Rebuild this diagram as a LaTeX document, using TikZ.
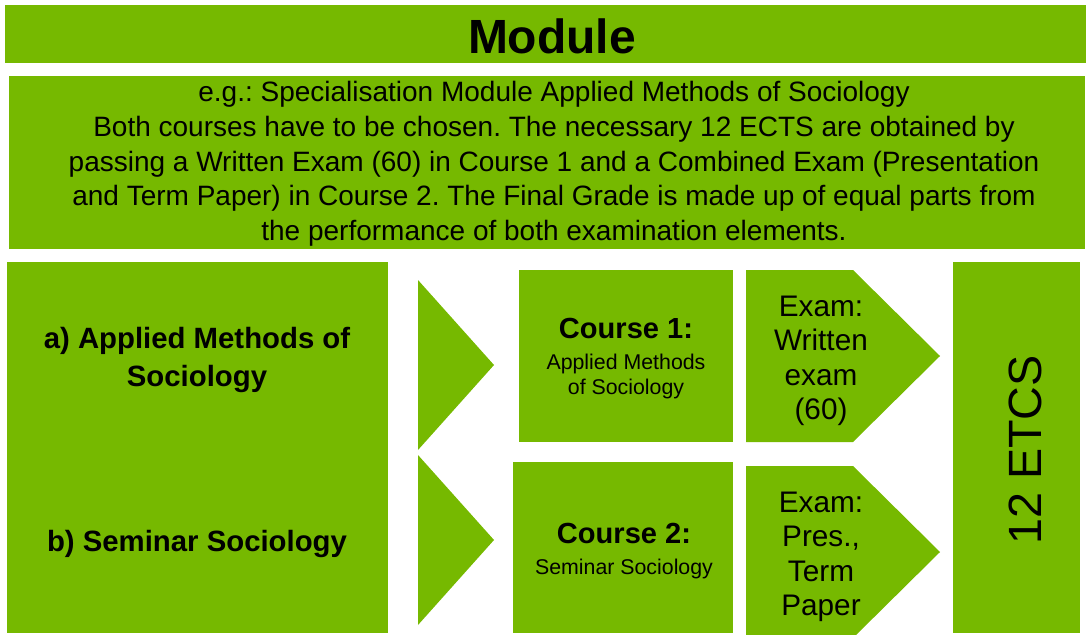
\documentclass[tikz,border=0pt]{standalone}
\usepackage{fontspec}
\setmainfont{Liberation Sans}
\frenchspacing
\definecolor{modgreen}{RGB}{118,185,0}
\tikzset{
  block/.style={fill=modgreen, inner sep=0pt, outer sep=0pt, align=center},
  headtxt/.style={inner sep=0pt, font=\bfseries\fontsize{36}{40}\selectfont},
  desctxt/.style={align=center, inner sep=0pt, font=\fontsize{21}{26}\selectfont},
  subtxt/.style={align=center, inner sep=0pt, font=\bfseries\fontsize{22}{28}\selectfont},
  coursetxt/.style={align=center, inner sep=0pt, font=\fontsize{16}{19}\selectfont},
  examtxt/.style={align=center, inner sep=0pt, font=\fontsize{22.3}{25.8}\selectfont},
}
\newcommand{\coursehead}[1]{\textbf{\fontsize{21.8}{24}\selectfont #1}}
\begin{document}
\begin{tikzpicture}[x=0.75pt,y=-0.75pt]
\useasboundingbox (0,0) rectangle (1086,635);
% header and description
\node[block, minimum width=810.75pt, minimum height=43.5pt] (titlebox) at (545.5,34) {};
\node[headtxt] (module) at (552,36) {Module};
\node[block, minimum width=807pt, minimum height=129.75pt] (descbox) at (547,162.5) {};
\node[desctxt] (desc) at (554,164) {e.g.: Specialisation Module Applied Methods of Sociology\\
  Both courses have to be chosen. The necessary 12 ECTS are obtained by\\
  passing a Written Exam (60) in Course 1 and a Combined Exam (Presentation\\
  and Term Paper) in Course 2. The Final Grade is made up of equal parts from\\
  the performance of both examination elements.};
% left column
\node[block, minimum width=285.75pt, minimum height=278.25pt] (subjects) at (197.5,447.5) {};
\node[subtxt] (suba) at (197,360) {a) Applied Methods of\\Sociology};
\node[subtxt] (subb) at (197,544) {b) Seminar Sociology};
% chevrons
\fill[modgreen] (418,280) -- (494,365) -- (418,450) -- cycle;
\fill[modgreen] (418,455) -- (494,540) -- (418,625) -- cycle;
% courses
\node[block, minimum width=160.5pt, minimum height=129pt] (course1) at (626,356) {};
\node[block, minimum width=165pt, minimum height=128.25pt] (course2) at (623,547.5) {};
\node[coursetxt] (c1txt) at (626,359) {\coursehead{Course 1:}\\[4pt]Applied Methods\\of Sociology};
\node[coursetxt] (c2txt) at (624,551) {\coursehead{Course 2:}\\[4pt]Seminar Sociology};
% exams
\fill[modgreen] (746,270) -- (853,270) -- (940,356) -- (853,442) -- (746,442) -- cycle;
\fill[modgreen] (746,466) -- (853,466) -- (940,552) -- (853,638) -- (746,638) -- cycle;
\node[examtxt] (exam1) at (821,361) {Exam:\\Written\\exam\\(60)};
\node[examtxt] (exam2) at (821,557) {Exam:\\Pres.,\\Term\\Paper};
% credits
\node[block, minimum width=95.25pt, minimum height=278.25pt] (credits) at (1016.5,447.5) {};
\node[rotate=90, inner sep=0pt, font=\fontsize{35}{40}\selectfont] (ects) at (1025,450) {12 ETCS};
\end{tikzpicture}
\end{document}
